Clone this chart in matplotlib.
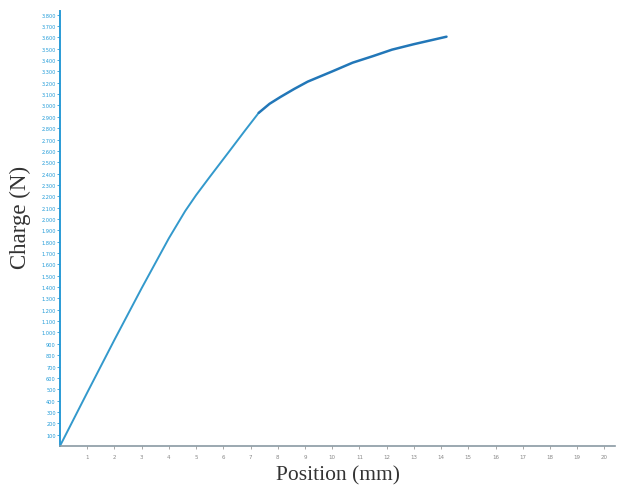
import matplotlib
matplotlib.use("Agg")
import matplotlib.pyplot as plt
from matplotlib.ticker import FuncFormatter

position_mm = [0, 1, 2, 3, 4, 4.6, 5, 5.5, 6.2, 6.8, 7.3, 7.7, 8.1, 8.6, 9.1, 10, 10.75, 11.5, 12.2, 13, 14.2]
charge_n = [0, 470, 935, 1390, 1830, 2070, 2210, 2370, 2590, 2780, 2935, 3015, 3075, 3145, 3210, 3300, 3377, 3435, 3492, 3540, 3606]
x_ticks = list(range(1, 21))
y_ticks = list(range(100, 3900, 100))

fig = plt.figure(figsize=(6.17, 4.89), dpi=100)
ax = fig.add_axes([0.0972, 0.0859, 0.9, 0.889])
ax.plot(position_mm[:11], charge_n[:11], color="#3399cc", linewidth=1.4, solid_capstyle="round")
ax.plot(position_mm[10:], charge_n[10:], color="#2277b8", linewidth=1.8, solid_capstyle="round")

ax.set_xlim(0, 20.4)
ax.set_ylim(0, 3830)
for s in ["top", "right"]:
    ax.spines[s].set_visible(False)
ax.spines["left"].set_color("#2a9bd6")
ax.spines["left"].set_linewidth(1.4)
ax.spines["bottom"].set_color("#8a9aa3")
ax.spines["bottom"].set_linewidth(1.2)

ax.set_xticks(x_ticks)
ax.set_yticks(y_ticks)
ax.yaxis.set_major_formatter(FuncFormatter(lambda v, p: f"{int(v):,}".replace(",", ".")))
ax.tick_params(axis="y", labelsize=3.6, labelcolor="#1e9ad8", color="#2a9bd6", length=2, width=0.6, pad=1)
ax.tick_params(axis="x", labelsize=4, labelcolor="#888888", color="#999999", length=2, width=0.6, pad=4)

ax.set_xlabel("Position (mm)", fontsize=15.5, family="Liberation Serif", color="#333333", labelpad=4)
ax.set_ylabel("Charge (N)", fontsize=16.5, family="Liberation Serif", color="#333333")
ax.yaxis.set_label_coords(-0.052, 0.529)

fig.savefig("out.png", dpi=100)
